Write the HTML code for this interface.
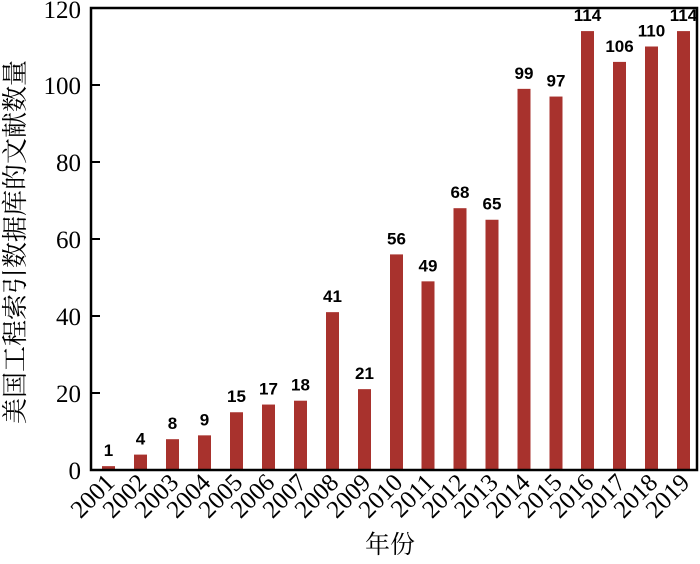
<!DOCTYPE html>
<html><head><meta charset="utf-8"><style>
body{margin:0;background:#fff}
</style></head><body>
<svg width="700" height="559" xmlns="http://www.w3.org/2000/svg">
<g font-family="Liberation Serif, serif" font-size="25" fill="#000" text-anchor="end">
<text x="81" y="479">0</text>
<text x="81" y="402">20</text>
<text x="81" y="325">40</text>
<text x="81" y="248">60</text>
<text x="81" y="171">80</text>
<text x="81" y="94">100</text>
<text x="81" y="18">120</text>
</g>
<g stroke="#000" stroke-width="2">
<line x1="91" y1="393" x2="100" y2="393"/>
<line x1="91" y1="316" x2="100" y2="316"/>
<line x1="91" y1="239" x2="100" y2="239"/>
<line x1="91" y1="162" x2="100" y2="162"/>
<line x1="91" y1="85" x2="100" y2="85"/>
</g>
<g fill="#a8322d">
<rect x="102" y="466.15" width="13" height="3.85"/>
<rect x="134" y="454.6" width="13" height="15.4"/>
<rect x="166" y="439.2" width="13" height="30.8"/>
<rect x="198" y="435.35" width="13" height="34.65"/>
<rect x="230" y="412.25" width="13" height="57.75"/>
<rect x="262" y="404.55" width="13" height="65.45"/>
<rect x="294" y="400.7" width="13" height="69.3"/>
<rect x="326" y="312.15" width="13" height="157.85"/>
<rect x="358" y="389.15" width="13" height="80.85"/>
<rect x="390" y="254.4" width="13" height="215.6"/>
<rect x="421.5" y="281.35" width="13" height="188.65"/>
<rect x="453.5" y="208.2" width="13" height="261.8"/>
<rect x="485.5" y="219.75" width="13" height="250.25"/>
<rect x="517.5" y="88.85" width="13" height="381.15"/>
<rect x="549.5" y="96.55" width="13" height="373.45"/>
<rect x="581" y="31.1" width="13" height="438.9"/>
<rect x="613" y="61.9" width="13" height="408.1"/>
<rect x="645" y="46.5" width="13" height="423.5"/>
<rect x="677" y="31.1" width="13" height="438.9"/>
</g>
<g font-family="Liberation Sans, sans-serif" font-weight="bold" font-size="17" text-anchor="middle" fill="#000">
<text x="108.5" y="456">1</text>
<text x="140.5" y="444.6">4</text>
<text x="172.5" y="429.2">8</text>
<text x="204.5" y="425.3">9</text>
<text x="236.5" y="402.2">15</text>
<text x="268.5" y="394.5">17</text>
<text x="300.5" y="390.7">18</text>
<text x="332.5" y="302.1">41</text>
<text x="364.5" y="379.1">21</text>
<text x="396.5" y="244.4">56</text>
<text x="428" y="271.3">49</text>
<text x="460" y="198.2">68</text>
<text x="492" y="209.7">65</text>
<text x="524" y="78.8">99</text>
<text x="556" y="86.5">97</text>
<text x="587.5" y="21.1">114</text>
<text x="619.5" y="51.9">106</text>
<text x="651.5" y="36.5">110</text>
<text x="683.5" y="21.1">114</text>
</g>
<g font-family="Liberation Serif, serif" font-size="25" text-anchor="end" fill="#000">
<text transform="translate(116,484) rotate(-45)">2001</text>
<text transform="translate(148,484) rotate(-45)">2002</text>
<text transform="translate(180,484) rotate(-45)">2003</text>
<text transform="translate(212,484) rotate(-45)">2004</text>
<text transform="translate(244,484) rotate(-45)">2005</text>
<text transform="translate(276,484) rotate(-45)">2006</text>
<text transform="translate(308,484) rotate(-45)">2007</text>
<text transform="translate(340,484) rotate(-45)">2008</text>
<text transform="translate(372,484) rotate(-45)">2009</text>
<text transform="translate(404,484) rotate(-45)">2010</text>
<text transform="translate(435.5,484) rotate(-45)">2011</text>
<text transform="translate(467.5,484) rotate(-45)">2012</text>
<text transform="translate(499.5,484) rotate(-45)">2013</text>
<text transform="translate(531.5,484) rotate(-45)">2014</text>
<text transform="translate(563.5,484) rotate(-45)">2015</text>
<text transform="translate(595,484) rotate(-45)">2016</text>
<text transform="translate(627,484) rotate(-45)">2017</text>
<text transform="translate(659,484) rotate(-45)">2018</text>
<text transform="translate(691,484) rotate(-45)">2019</text>
</g>
<text x="390" y="553" text-anchor="middle" font-family="Liberation Serif, Noto Serif CJK SC, serif" font-size="25">年份</text>
<text transform="translate(24,242) rotate(-90)" text-anchor="middle" font-family="Liberation Serif, Noto Serif CJK SC, serif" font-size="26">美国工程索引数据库的文献数量</text>
<rect x="91" y="8" width="606" height="462" fill="none" stroke="#000" stroke-width="2.5"/>
</svg>
</body></html>
